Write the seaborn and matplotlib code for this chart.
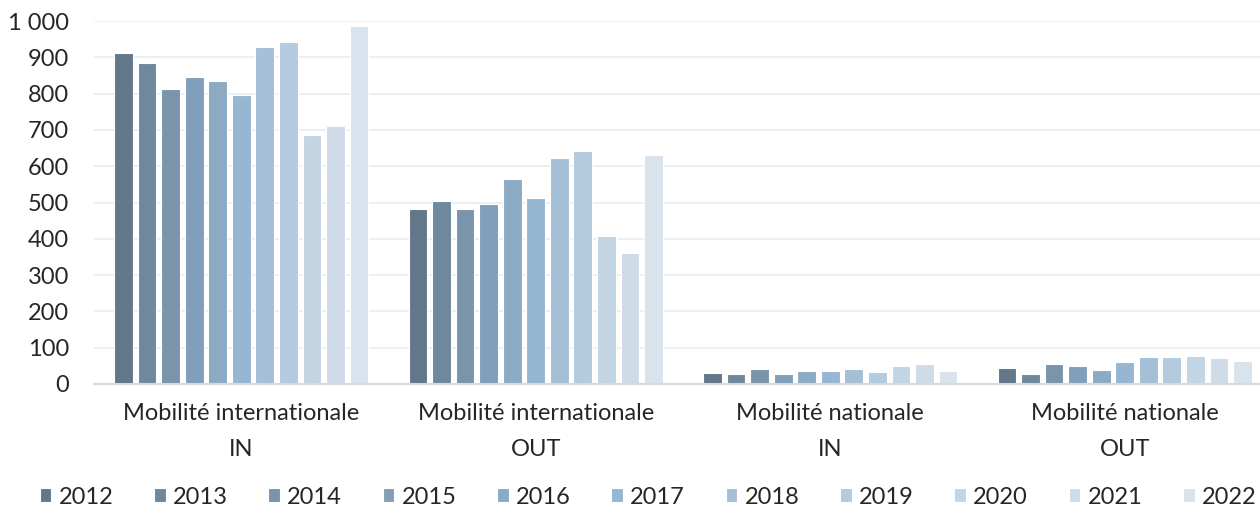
import pandas as pd
import matplotlib
matplotlib.use("Agg")
import matplotlib.pyplot as plt
import matplotlib.ticker as ticker
import seaborn as sns

# Données
categories = ["Mobilité internationale\nIN", "Mobilité internationale\nOUT",
              "Mobilité nationale\nIN", "Mobilité nationale\nOUT"]
annees = ["2012", "2013", "2014", "2015", "2016", "2017",
          "2018", "2019", "2020", "2021", "2022"]
inter_in = [911, 883, 813, 846, 835, 796, 928, 943, 686, 710, 985]
inter_out = [482, 503, 482, 495, 564, 513, 622, 641, 407, 361, 631]
nat_in = [30, 27, 42, 28, 35, 35, 40, 32, 49, 54, 37]
nat_out = [44, 28, 55, 49, 39, 60, 75, 75, 77, 73, 64]
couleurs = ["#627789", "#6e889d", "#7a95ab", "#819fba", "#8caac4", "#96b6d2",
            "#a5bfd7", "#b4cadf", "#c3d4e3", "#cfdce8", "#d9e3ed"]

rows = []
for cat, vals in zip(categories, [inter_in, inter_out, nat_in, nat_out]):
    for an, v in zip(annees, vals):
        rows.append({"categorie": cat, "annee": an, "valeur": v})
df = pd.DataFrame(rows)

sns.set_theme(style="white")
plt.rcParams['font.family'] = ['Lato', 'DejaVu Sans']
txt = "#262626"

fig = plt.figure(figsize=(12.6, 5.12), dpi=100)
ax = fig.add_axes([94 / 1260, 1 - 384 / 512, 1178 / 1260, 363 / 512])

sns.barplot(data=df, x="categorie", y="valeur", hue="annee", hue_order=annees,
            palette=couleurs, saturation=1, width=0.88, gap=0.2,
            edgecolor="white", linewidth=0.8, ax=ax)

ax.set_ylim(0, 1000)
ax.set_xlim(-0.5, 3.5)
ax.yaxis.set_major_locator(ticker.MultipleLocator(100))
ax.yaxis.set_major_formatter(ticker.FuncFormatter(lambda x, pos: f"{x:,.0f}".replace(",", " ")))
ax.grid(axis="y", color="#e8edf3", linewidth=1.2)
ax.set_axisbelow(True)
for s in ["top", "right", "left"]:
    ax.spines[s].set_visible(False)
ax.spines["bottom"].set_color("#d9d9d9")
ax.spines["bottom"].set_linewidth(1.5)
ax.set_xlabel("")
ax.set_ylabel("")
ax.tick_params(axis="y", length=0, pad=18, labelsize=17, labelcolor=txt)
ax.tick_params(axis="x", length=0, pad=14, labelsize=17, labelcolor=txt)
for lab in ax.get_xticklabels():
    lab.set_linespacing(1.85)

handles, labels = ax.get_legend_handles_labels()
ax.get_legend().remove()
fig.legend(handles, labels, ncol=11, loc="center", bbox_to_anchor=(648 / 1260, 1 - 497 / 512),
           frameon=False, fontsize=17, handlelength=0.5, handleheight=0.5,
           handletextpad=0.3, columnspacing=1.72, borderpad=0, labelcolor=txt)

plt.savefig("out.png", dpi=100)
